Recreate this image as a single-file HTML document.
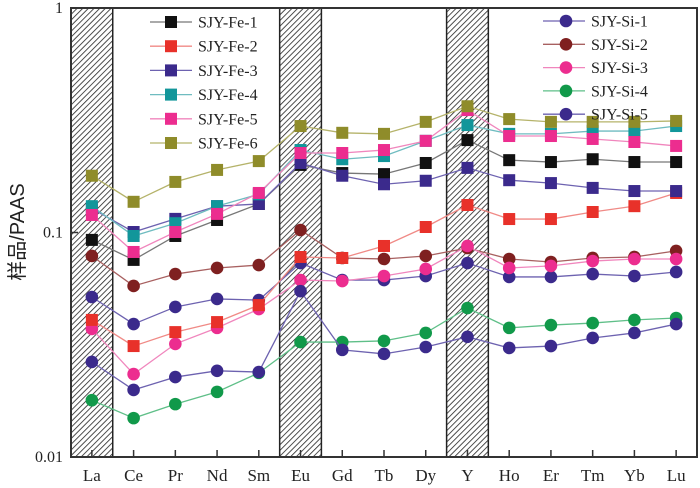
<!DOCTYPE html>
<html><head><meta charset="utf-8"><style>
html,body{margin:0;padding:0;background:#fff;}
svg{display:block;font-family:"Liberation Serif","Noto Serif CJK SC",serif;}
</style></head><body>
<svg id="chart" width="700" height="488" viewBox="0 0 700 488" xmlns="http://www.w3.org/2000/svg">
<defs>
<pattern id="hatch" patternUnits="userSpaceOnUse" width="4" height="4" patternTransform="rotate(45)">
<rect width="4" height="4" fill="#fff"/><line x1="0" y1="0" x2="0" y2="4" stroke="#222" stroke-width="1.6"/>
</pattern>
</defs>
<g id="bands"></g>
<g id="series"></g>
<rect x="71" y="8" width="626" height="449" fill="none" stroke="#333" stroke-width="2"/>
<g id="axes"></g>
<text transform="translate(24,232) rotate(-90)" text-anchor="middle" font-size="20" fill="#222" font-family="Liberation Sans, Noto Sans CJK SC, sans-serif">样品/PAAS</text>
<g id="legend"></g>
</svg>
<script>
const categories=["La","Ce","Pr","Nd","Sm","Eu","Gd","Tb","Dy","Y","Ho","Er","Tm","Yb","Lu"];
const hatchedCats=["La","Eu","Y"];
const yTicks=[1,0.1,0.01];
const yTickLabels=["1","0.1","0.01"];
const seriesNames=["SJY-Fe-1","SJY-Fe-2","SJY-Fe-3","SJY-Fe-4","SJY-Fe-5","SJY-Fe-6","SJY-Si-1","SJY-Si-2","SJY-Si-3","SJY-Si-4","SJY-Si-5"];
const fe1=[0.0927,0.0755,0.0965,0.1137,0.134,0.200,0.184,0.182,0.204,0.258,0.210,0.206,0.212,0.206,0.206];
const fe2=[0.0408,0.0312,0.0360,0.0399,0.0475,0.0778,0.0770,0.0871,0.1058,0.1326,0.1148,0.1148,0.1234,0.131,0.150];
const fe3=[0.128,0.1005,0.115,0.131,0.134,0.204,0.179,0.164,0.170,0.194,0.171,0.166,0.158,0.153,0.153];
const fe4=[0.131,0.0965,0.110,0.131,0.148,0.233,0.212,0.219,0.256,0.301,0.275,0.275,0.283,0.283,0.298];
const fe5=[0.1197,0.0819,0.1005,0.121,0.150,0.226,0.226,0.233,0.256,0.351,0.269,0.269,0.261,0.253,0.243];
const fe6=[0.179,0.137,0.168,0.190,0.208,0.298,0.278,0.275,0.311,0.365,0.320,0.311,0.311,0.311,0.314];
const si1=[0.0516,0.0391,0.0466,0.0506,0.0500,0.0731,0.0614,0.0614,0.0640,0.0731,0.0634,0.0634,0.0653,0.0640,0.0667];
const si2=[0.0786,0.0578,0.0653,0.0695,0.0716,0.1026,0.0770,0.0762,0.0786,0.0853,0.0762,0.0739,0.0770,0.0778,0.0828];
const si3=[0.0372,0.0234,0.0319,0.0376,0.0456,0.0614,0.0608,0.0640,0.0688,0.0871,0.0695,0.0710,0.0746,0.0762,0.0762];
const si4=[0.0179,0.0149,0.0172,0.0195,0.0237,0.0325,0.0325,0.0329,0.0357,0.0461,0.0376,0.0387,0.0395,0.0408,0.0416];
const si5=[0.0265,0.0199,0.0227,0.0242,0.0239,0.0548,0.0300,0.0288,0.0309,0.0343,0.0306,0.0312,0.0339,0.0357,0.0391];

const NS="http://www.w3.org/2000/svg";
const X0=71,X1=697,Y0=8,Y1=457;
const step=(X1-X0)/categories.length;
function xPos(i){return X0+step*(i+0.5);}
function yPos(v){return Y0+(0-Math.log10(v))*224.5;}
function mk(tag,attrs,parent){const e=document.createElementNS(NS,tag);for(const k in attrs)e.setAttribute(k,attrs[k]);parent.appendChild(e);return e;}

const bands=document.getElementById('bands');
hatchedCats.forEach(c=>{
  const i=categories.indexOf(c);
  const r=mk('rect',{x:xPos(i)-step/2,y:Y0,width:step,height:Y1-Y0,fill:'url(#hatch)',stroke:'#222','stroke-width':1.5},bands);
  
  
});

const axes=document.getElementById('axes');
categories.forEach((c,i)=>{
  const t=mk('line',{x1:xPos(i),x2:xPos(i),y1:Y1,y2:Y1-7,stroke:'#333','stroke-width':1.5},axes);
  
  
  const l=mk('text',{x:xPos(i),y:481,'text-anchor':'middle','font-size':17,fill:'#222'},axes);
  l.textContent=c;
  
  
});
yTicks.forEach((v,i)=>{
  const t=mk('line',{x1:X0,x2:X0+7,y1:yPos(v),y2:yPos(v),stroke:'#333','stroke-width':1.5},axes);
  
  
  const l=mk('text',{x:63,y:yPos(v)+5,'text-anchor':'end','font-size':16,fill:'#222'},axes);
  l.textContent=yTickLabels[i];
  
  
});

const data=[fe1,fe2,fe3,fe4,fe5,fe6,si1,si2,si3,si4,si5];
const fill=["#111111","#e8312a","#3b2a8c","#12969a","#ec2d8f","#8f8c2a","#3b2a8c","#7f2020","#ec2d8f","#11994a","#3b2a8c"];
const lineC=["#777","#f08a86","#6d62b0","#6fbcc0","#f086bd","#b5b36a","#6d62b0","#a86060","#f086bd","#5fbf88","#6d62b0"];
const shape=["s","s","s","s","s","s","c","c","c","c","c"];
const g=document.getElementById('series');
function marker(parent,x,y,i){
  let m;
  if(shape[i]==="s") m=mk('rect',{x:x-6,y:y-6,width:12,height:12,fill:fill[i]},parent);
  else m=mk('circle',{cx:x,cy:y,r:6.3,fill:fill[i]},parent);
  return m;
}
[6,7,8,9,10,0,1,2,3,4,5].forEach(i=>{
  const sg=mk('g',{},g);
  
  
  const pts=data[i].map((v,j)=>xPos(j)+','+yPos(v)).join(' ');
  mk('polyline',{points:pts,fill:'none',stroke:lineC[i],'stroke-width':1.3},sg);
  data[i].forEach((v,j)=>{
    const m=marker(sg,xPos(j),yPos(v),i);
    
    
  });
});

const lg=document.getElementById('legend');
seriesNames.forEach((n,i)=>{
  const fe=i<6;
  const row=fe?i:i-6;
  const y=fe?(22+row*24.2):(21+row*23.3);
  const lx=fe?150:543, mx=fe?171:566, tx=fe?198:591;
  const e=mk('g',{},lg);
  
  
  mk('line',{x1:lx,x2:lx+42,y1:y,y2:y,stroke:lineC[i],'stroke-width':1.3},e);
  marker(e,mx,y,i);
  const t=mk('text',{x:tx,y:y+5.5,'font-size':16,fill:'#222'},e);
  t.textContent=n;
});
</script>
</body></html>
